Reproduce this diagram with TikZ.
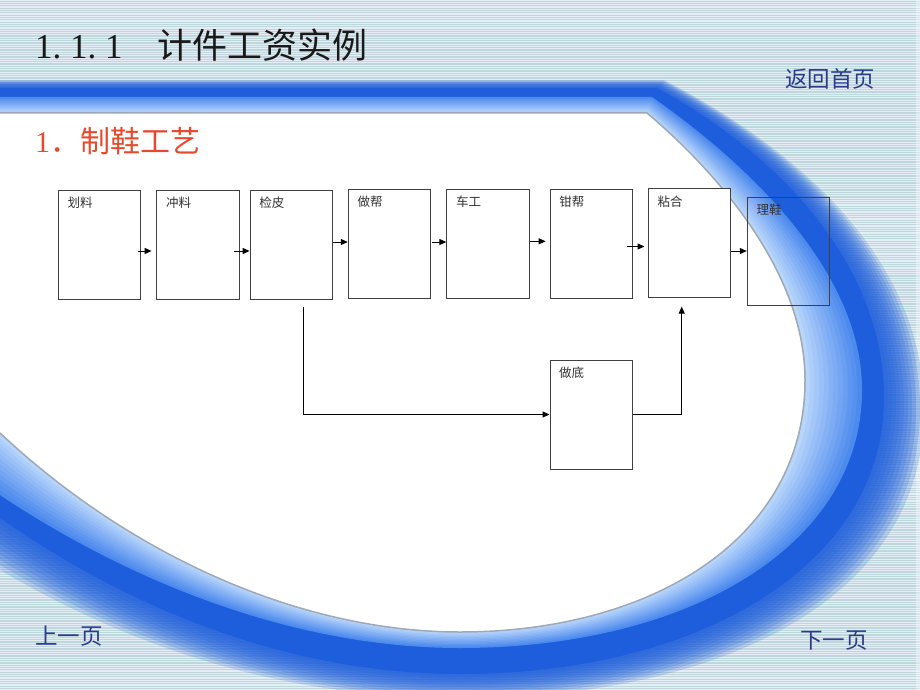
\documentclass[tikz,border=0pt]{standalone}
\usepackage{fontspec}
\setmainfont{Liberation Serif}
\newfontfamily\cjk{Noto Sans CJK SC}
\usetikzlibrary{arrows.meta,calc}
\definecolor{bgbase}{HTML}{BFD6DF}
\definecolor{bgline}{HTML}{E4EFF3}
\definecolor{darkband}{RGB}{30,94,220}
\definecolor{lightFar}{HTML}{4C8AEE}
\definecolor{lightNear}{HTML}{B8D5FA}
\definecolor{edgegray}{HTML}{9EA8B6}
\definecolor{navy}{HTML}{2B3A8C}
\definecolor{redtxt}{HTML}{E64A2E}
\definecolor{boxline}{HTML}{404040}
\definecolor{labtxt}{HTML}{333333}
\newcommand\hw[1]{\makebox[0.5em][l]{#1}}
% path interpolated between two families of named coordinates
\newcommand\ipath[3]{($(#10)!#3!(#20)$) -- ($(#11)!#3!(#21)$) .. controls ($(#12)!#3!(#22)$) and ($(#13)!#3!(#23)$) .. ($(#14)!#3!(#24)$) .. controls ($(#15)!#3!(#25)$) and ($(#16)!#3!(#26)$) .. ($(#17)!#3!(#27)$) .. controls ($(#18)!#3!(#28)$) and ($(#19)!#3!(#29)$) .. ($(#1X)!#3!(#2X)$) -- cycle}
\newcommand\setfam[2]{\foreach \nm/\xx/\yy in {#2} {\coordinate (#1\nm) at (\xx,\yy);}}
\tikzset{
  stripe/.style={draw=bgline, line width=1.1pt},
  stepbox/.style={draw=boxline, line width=1pt, fill=white, minimum width=82.4pt, minimum height=109pt, inner sep=0pt},
  lab/.style={anchor=north west, inner sep=0pt, xshift=9.5pt, yshift=-7pt, text=labtxt, font=\cjk\fontsize{12.5}{12.5}\selectfont},
  arr/.style={draw=black, line width=1pt, -{Triangle[length=7pt,width=6pt]}},
  navtxt/.style={inner sep=0pt, text=navy, font=\cjk\fontsize{22.5}{22.5}\selectfont}
}
\begin{document}
\begin{tikzpicture}[x=1pt,y=-1pt]
\useasboundingbox (0,0) rectangle (920,690);
% shape families: W white, L inner edge of dark band, D outer edge of solid dark, F end of fade
\setfam{W}{0/0/113,1/647/113,2/705/162,3/805/265,4/805/380,5/805/540,6/650/632,7/460/632,8/300/632,9/130/555,X/0/433}
\setfam{L}{0/0/97,1/652/97,2/735/155,3/862/265,4/862/390,5/862/545,6/690/648,7/460/648,8/285/648,9/120/575,X/0/495}
\setfam{D}{0/0/88,1/657/88,2/775/152,3/884/262,4/884/398,5/884/565,6/700/674,7/460/674,8/280/674,9/120/602,X/0/518}
\setfam{F}{0/0/80,1/664/80,2/800/150,3/924/260,4/924/410,5/924/600,6/720/698,7/460/698,8/260/698,9/110/634,X/0/570}
% background
\fill[bgbase] (0,0) rectangle (920,690);
\foreach \i in {0,...,296} \draw[stripe] (0,{\i*2.33}) -- (920,{\i*2.33});
\fill[white, opacity=0.35] (916,0) rectangle (920,690);
% fade of the dark band into the stripes
\foreach \t in {1.0,0.9,0.8,0.7,0.6,0.5,0.4,0.3,0.2,0.1}
  \fill[darkband, opacity=0.2] \ipath{D}{F}{\t};
\fill[darkband] \ipath{D}{F}{0};
% light band gradient
\foreach \k in {0,...,11} {
  \pgfmathsetmacro\tt{1-\k/12}
  \pgfmathtruncatemacro\pc{100*\k/11}
  \fill[lightNear!\pc!lightFar] \ipath{W}{L}{\tt};
}
\fill[white] \ipath{W}{L}{0};
\draw[edgegray, line width=1.5pt] (W0) -- (W1) .. controls (W2) and (W3) .. (W4) .. controls (W5) and (W6) .. (W7) .. controls (W8) and (W9) .. (WX);
% texts
\node[anchor=base west, inner sep=0pt, text=black!90] (title) at (35,59)
  {\fontsize{35}{35}\selectfont\hw{1}\hw{.}\hw{1}\hw{.}\hw{1}{\cjk\hspace{1em}计件工资实例}};
\node[anchor=base west, inner sep=0pt, text=redtxt] (sub) at (35,152)
  {\fontsize{30}{30}\selectfont\hw{1}{\cjk ．制鞋工艺}};
\node[navtxt] (home) at (830,79) {返回首页};
\node[navtxt] (prev) at (69,636) {上一页};
\node[navtxt] (next) at (834,641) {下一页};
% boxes
\node[stepbox, label={[lab]north west:划料}] (b1) at (99.5,244.5) {};
\node[stepbox, label={[lab]north west:冲料}] (b2) at (198,244.8) {};
\node[stepbox, label={[lab]north west:检皮}] (b3) at (291.3,244.7) {};
\node[stepbox, label={[lab]north west:做帮}] (b4) at (389.5,243.8) {};
\node[stepbox, label={[lab]north west:车工}] (b5) at (488,243.8) {};
\node[stepbox, label={[lab]north west:钳帮}] (b6) at (591.3,244.2) {};
\node[stepbox, label={[lab]north west:粘合}] (b7) at (689.5,243.3) {};
\node[stepbox, fill=none, minimum width=82pt, minimum height=108.4pt, label={[lab]north west:理鞋}] (b8) at (788.3,251.5) {};
\node[stepbox, label={[lab]north west:做底}] (b9) at (591.2,414.5) {};
% connectors
\draw[arr] ($(b1.east)+(-3.4,6.5)$) -- ($(b2.west)+(-4.7,6.2)$);
\draw[arr] ($(b2.east)+(-5.3,6.2)$) -- ($(b3.west)+(0,6.3)$);
\draw[arr] ($(b3.east)+(0,-2.7)$) -- ($(b4.west)+(0,-1.8)$);
\draw[arr] ($(b4.east)+(1,-1.8)$) -- ($(b5.west)+(0,-1.8)$);
\draw[arr] ($(b5.east)+(0,-2.5)$) -- ($(b6.west)+(-4,-2.9)$);
\draw[arr] ($(b6.east)+(-5.7,2.3)$) -- ($(b7.west)+(-3.3,3.2)$);
\draw[arr] ($(b7.east)+(0,7.7)$) -- ($(b8.west)+(0,-0.5)$);
\draw[arr] ($(b3.south)+(12.2,7.7)$) |- (b9.west);
\draw[arr] (b9.east) -| ($(b7.south)+(-7.8,8.3)$);
\end{tikzpicture}
\end{document}
